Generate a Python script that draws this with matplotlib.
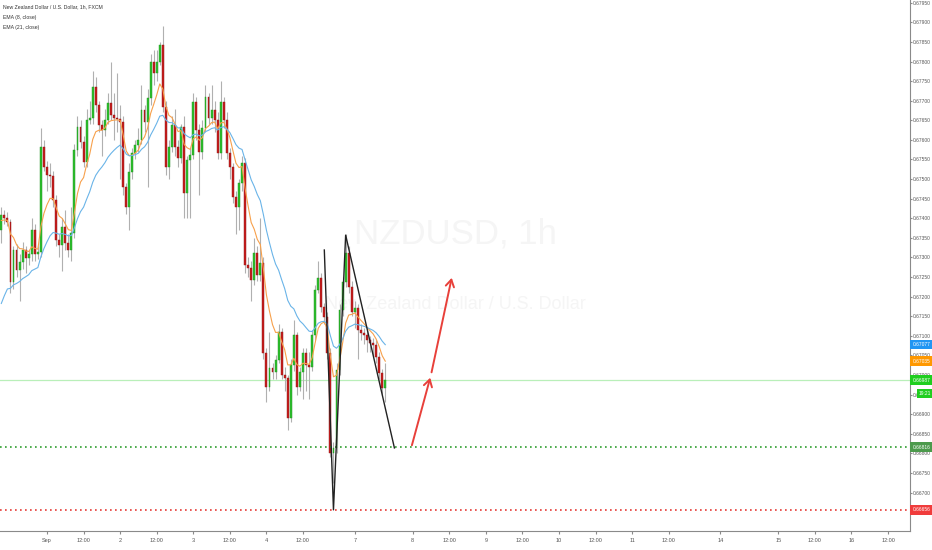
import numpy as np
import pandas as pd
import matplotlib
matplotlib.use('Agg')
import matplotlib.pyplot as plt

closes = [
    0.67409, 0.67401, 0.67391, 0.67238, 0.67319, 0.67268, 0.67289, 0.67319, 0.67299, 0.67309,
    0.67370, 0.67309, 0.67314, 0.67582, 0.67531, 0.67511, 0.67508, 0.67447, 0.67345, 0.67332,
    0.67378, 0.67337, 0.67319, 0.67363, 0.67574, 0.67633, 0.67595, 0.67544, 0.67651, 0.67656,
    0.67735, 0.67689, 0.67638, 0.67625, 0.67651, 0.67694, 0.67664, 0.67656, 0.67653, 0.67646,
    0.67480, 0.67429, 0.67518, 0.67567, 0.67587, 0.67600, 0.67676, 0.67646, 0.67707, 0.67799,
    0.67771, 0.67799, 0.67842, 0.67684, 0.67531, 0.67582, 0.67638, 0.67582, 0.67554, 0.67633,
    0.67465, 0.67549, 0.67562, 0.67697, 0.67625, 0.67569, 0.67630, 0.67710, 0.67656, 0.67676,
    0.67651, 0.67567, 0.67697, 0.67651, 0.67567, 0.67531, 0.67455, 0.67429, 0.67490, 0.67541,
    0.67281, 0.67273, 0.67243, 0.67312, 0.67256, 0.67286, 0.67057, 0.66970, 0.67018, 0.67008,
    0.67039, 0.67110, 0.67000, 0.66993, 0.66891, 0.67026, 0.67102, 0.66970, 0.67008, 0.67057,
    0.67026, 0.67021, 0.67102, 0.67217, 0.67248, 0.67174, 0.67148, 0.67057, 0.66801, 0.66814,
    0.67013, 0.67166, 0.67238, 0.67312, 0.67225, 0.67161, 0.67171, 0.67115, 0.67108, 0.67102,
    0.67090, 0.67082, 0.67077, 0.67046, 0.67005, 0.66967, 0.66987,
]
highs = [
    0.67429, 0.67420, 0.67415, 0.67398, 0.67330, 0.67335, 0.67310, 0.67340, 0.67330, 0.67320,
    0.67400, 0.67385, 0.67330, 0.67630, 0.67600, 0.67545, 0.67540, 0.67520, 0.67460, 0.67360,
    0.67400, 0.67420, 0.67360, 0.67430, 0.67590, 0.67660, 0.67650, 0.67610, 0.67680, 0.67700,
    0.67775, 0.67760, 0.67700, 0.67650, 0.67680, 0.67720, 0.67800, 0.67720, 0.67770, 0.67690,
    0.67660, 0.67490, 0.67540, 0.67580, 0.67600, 0.67630, 0.67740, 0.67690, 0.67730, 0.67820,
    0.67830, 0.67830, 0.67850, 0.67890, 0.67700, 0.67600, 0.67660, 0.67680, 0.67600, 0.67640,
    0.67660, 0.67560, 0.67580, 0.67720, 0.67710, 0.67640, 0.67650, 0.67740, 0.67720, 0.67740,
    0.67700, 0.67670, 0.67750, 0.67710, 0.67670, 0.67580, 0.67540, 0.67470, 0.67500, 0.67560,
    0.67555, 0.67300, 0.67290, 0.67350, 0.67330, 0.67400, 0.67300, 0.67070, 0.67110, 0.67030,
    0.67050, 0.67130, 0.67120, 0.67020, 0.67000, 0.67040, 0.67140, 0.67110, 0.67020, 0.67070,
    0.67070, 0.67060, 0.67115, 0.67230, 0.67290, 0.67260, 0.67185, 0.67160, 0.67070, 0.66830,
    0.67030, 0.67180, 0.67250, 0.67360, 0.67330, 0.67240, 0.67190, 0.67180, 0.67130, 0.67120,
    0.67115, 0.67100, 0.67095, 0.67090, 0.67060, 0.67015, 0.67030,
]
lows = [
    0.67337, 0.67385, 0.67380, 0.67210, 0.67220, 0.67250, 0.67190, 0.67270, 0.67260, 0.67280,
    0.67290, 0.67290, 0.67295, 0.67300, 0.67520, 0.67470, 0.67480, 0.67430, 0.67330, 0.67300,
    0.67265, 0.67320, 0.67300, 0.67290, 0.67350, 0.67560, 0.67580, 0.67530, 0.67530, 0.67640,
    0.67640, 0.67670, 0.67620, 0.67560, 0.67610, 0.67640, 0.67650, 0.67600, 0.67620, 0.67500,
    0.67460, 0.67410, 0.67370, 0.67500, 0.67550, 0.67570, 0.67590, 0.67620, 0.67480, 0.67690,
    0.67740, 0.67750, 0.67790, 0.67670, 0.67510, 0.67500, 0.67570, 0.67560, 0.67530, 0.67540,
    0.67400, 0.67400, 0.67400, 0.67550, 0.67600, 0.67460, 0.67550, 0.67620, 0.67640, 0.67640,
    0.67620, 0.67550, 0.67550, 0.67630, 0.67550, 0.67500, 0.67440, 0.67360, 0.67370, 0.67470,
    0.67260, 0.67250, 0.67190, 0.67230, 0.67240, 0.67240, 0.67040, 0.66930, 0.66960, 0.66990,
    0.66990, 0.67030, 0.66990, 0.66960, 0.66860, 0.66880, 0.67010, 0.66950, 0.66960, 0.66940,
    0.66960, 0.66940, 0.67010, 0.67090, 0.67210, 0.67160, 0.67130, 0.67040, 0.66790, 0.66724,
    0.66800, 0.67000, 0.67150, 0.67225, 0.67210, 0.67150, 0.67120, 0.67040, 0.67090, 0.67080,
    0.67060, 0.67060, 0.67050, 0.67030, 0.66990, 0.66950, 0.66930,
]
first_open = 0.67370
opens = [first_open] + closes[:-1]

# Startwerte der EMAs am linken Rand (Historie davor nicht sichtbar)
ema8_seed = 0.67390
ema21_seed = 0.67160

# Zeitachse (Bar-Index)
tick_pos = [15, 27, 39, 51, 63, 75, 87, 99, 116, 135, 147, 159, 171, 183, 195, 207, 219,
            236, 255, 267, 279, 291]
tick_labels = ['Sep', '12:00', '2', '12:00', '3', '12:00', '4', '12:00', '7', '8', '12:00',
               '9', '12:00', '10', '12:00', '11', '12:00', '14', '15', '12:00', '16', '12:00']

# Zeichnungen
pattern_x = [106, 109, 113, 129]
pattern_y = [0.67319, 0.66656, 0.67357, 0.66814]
arrow_x = [134.5, 141, 148]
arrow_y = [0.66814, 0.67000, 0.67255]
support_level = 0.66816
stop_level = 0.66656
countdown = '19:21'

# --- Plot ---
plt.rcParams['font.family'] = ['Liberation Sans', 'DejaVu Sans']
fig = plt.figure(figsize=(9.32, 5.5), dpi=100)
ax = fig.add_axes([0, 19 / 550, 910 / 932, 531 / 550])

# Wasserzeichen
ax.text(0.5, 0.559, 'NZDUSD, 1h', transform=ax.transAxes, ha='center', va='center',
        fontsize=25, color='#f5f5f5', zorder=0)
ax.text(0.5, 0.427, 'New Zealand Dollar / U.S. Dollar', transform=ax.transAxes,
        ha='center', va='center', fontsize=13, color='#f5f5f5', zorder=0)

idx = np.arange(len(closes))
o = np.array(opens)
c = np.array(closes)
up = c >= o
body_col = np.where(up, '#2ec12e', '#c81e1e')
edge_col = np.where(up, '#1f8f1f', '#8e1414')

ax.axhline(closes[-1], color='#b9efb9', linewidth=0.9, zorder=1)
ax.vlines(idx, lows, highs, color='#b0b0b0', linewidth=0.8, zorder=2)
ax.bar(idx, np.maximum(np.abs(c - o), 0.00003), bottom=np.minimum(o, c), width=0.62,
       color=body_col, edgecolor=edge_col, linewidth=0.3, zorder=3)

ema8 = pd.Series([ema8_seed] + closes).ewm(span=8, adjust=False).mean().iloc[1:].values
ema21 = pd.Series([ema21_seed] + closes).ewm(span=21, adjust=False).mean().iloc[1:].values
ax.plot(idx, ema8, color='#f7a04b', linewidth=0.8, zorder=4)
ax.plot(idx, ema21, color='#6ab4e8', linewidth=0.8, zorder=4)

ax.axhline(support_level, color='#2e9e2e', linewidth=1.2, linestyle=(0, (1, 2)), zorder=4)
ax.axhline(stop_level, color='#e53935', linewidth=1.2, linestyle=(0, (1, 2)), zorder=4)

ax.plot(pattern_x, pattern_y, color='#222222', linewidth=1.0, zorder=5)
for i in range(len(arrow_x) - 1):
    ax.annotate('', xy=(arrow_x[i + 1], arrow_y[i + 1]), xytext=(arrow_x[i], arrow_y[i]),
                arrowprops=dict(arrowstyle='->,head_length=0.5,head_width=0.3',
                                color='#e8403a', linewidth=1.4), zorder=5)

ax.set_xlim(-0.43, 298.2)
ax.set_ylim(0.66602, 0.67957)

ax.spines['top'].set_visible(False)
ax.spines['left'].set_visible(False)
for s in ['right', 'bottom']:
    ax.spines[s].set_color('#8a8a8a')
    ax.spines[s].set_linewidth(0.8)

ax.yaxis.tick_right()
yt = np.arange(0.6670, 0.67951, 0.0005)
ax.set_yticks(yt)
ax.set_yticklabels(['{:.5f}'.format(v) for v in yt])
ax.tick_params(axis='y', labelsize=3.5, colors='#8a8a8a', labelcolor='#555555',
               length=1.5, pad=0.8)
ax.set_xticks(tick_pos)
ax.set_xticklabels(tick_labels)
ax.tick_params(axis='x', labelsize=4, colors='#8a8a8a', labelcolor='#555555', length=2, pad=3)

# Preis-Labels an der Achse
ytr = ax.get_yaxis_transform()
boxes = [
    (ema21[-1], '#2196f3'),
    (ema8[-1], '#ff9800'),
    (closes[-1], '#1fce1f'),
    (support_level, '#4c9a4c'),
    (stop_level, '#f03c3c'),
]
for val, col in boxes:
    ax.text(1.0025, val, '{:.5f}'.format(val), transform=ytr, ha='left', va='center',
            fontsize=3.5, color='white', clip_on=False, zorder=6,
            bbox=dict(boxstyle='square,pad=0.45', facecolor=col, edgecolor='none'))
ax.annotate(countdown, xy=(1.0, closes[-1]), xycoords=ytr, xytext=(6.5, -9.5),
            textcoords='offset points', ha='left', va='center', fontsize=3.5, color='white',
            annotation_clip=False, zorder=6,
            bbox=dict(boxstyle='square,pad=0.4', facecolor='#1fce1f', edgecolor='none'))

# Legende oben links
fig.text(3 / 932, 1 - 7 / 550, 'New Zealand Dollar / U.S. Dollar, 1h, FXCM', fontsize=3.7,
         color='#333333', va='center')
fig.text(3 / 932, 1 - 17 / 550, 'EMA (8, close)', fontsize=3.7, color='#333333', va='center')
fig.text(3 / 932, 1 - 27 / 550, 'EMA (21, close)', fontsize=3.7, color='#333333', va='center')

fig.savefig('out.png', dpi=100, facecolor='white')
